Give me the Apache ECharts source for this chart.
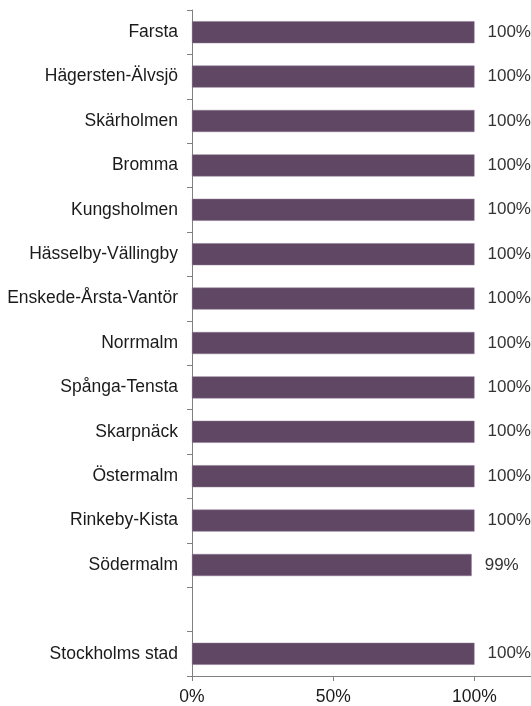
<!DOCTYPE html>
<html><head><meta charset="utf-8">
<script src="https://cdn.jsdelivr.net/npm/echarts@6/dist/echarts.min.js"></script>
<style>html,body{margin:0;padding:0;background:#fff}#c{width:531px;height:706px}</style>
</head><body><div id="c"></div>
<script>
const categories = ['Farsta','Hägersten-Älvsjö','Skärholmen','Bromma','Kungsholmen','Hässelby-Vällingby','Enskede-Årsta-Vantör','Norrmalm','Spånga-Tensta','Skarpnäck','Östermalm','Rinkeby-Kista','Södermalm','','Stockholms stad'];
const values = [100,100,100,100,100,100,100,100,100,100,100,100,99,null,100];
const xTicks = [0,50,100];
const chart = echarts.init(document.getElementById('c'));
chart.setOption({
  animation:false,
  grid:{left:192,right:0,top:10,bottom:29,containLabel:false},
  xAxis:{type:'value',min:0,max:120,interval:50,
    axisLine:{show:true,lineStyle:{color:'#808080',width:1}},
    axisTick:{show:true,length:5,lineStyle:{color:'#808080'}},
    splitLine:{show:false},
    axisLabel:{showMaxLabel:false,margin:12,fontFamily:'Liberation Sans, Arial',fontSize:17.5,color:'#1a1a1a',
      formatter:v=>xTicks.includes(v)?v+'%':''}},
  yAxis:{type:'category',data:categories,inverse:true,
    axisLine:{show:true,lineStyle:{color:'#808080',width:1}},
    axisTick:{show:true,length:5,inside:false,lineStyle:{color:'#808080'}},
    axisLabel:{margin:14,fontFamily:'Liberation Sans, Arial',fontSize:17.5,color:'#1a1a1a'}},
  series:[{type:'bar',data:values,barWidth:22,
    itemStyle:{color:'#604865',borderColor:'#8a7590',borderWidth:0.5},
    label:{show:true,position:'right',distance:13,fontFamily:'Liberation Sans, Arial',fontSize:17,color:'#333',
      formatter:p=>p.value==null?'':p.value+'%'}}]
});
</script></body></html>
